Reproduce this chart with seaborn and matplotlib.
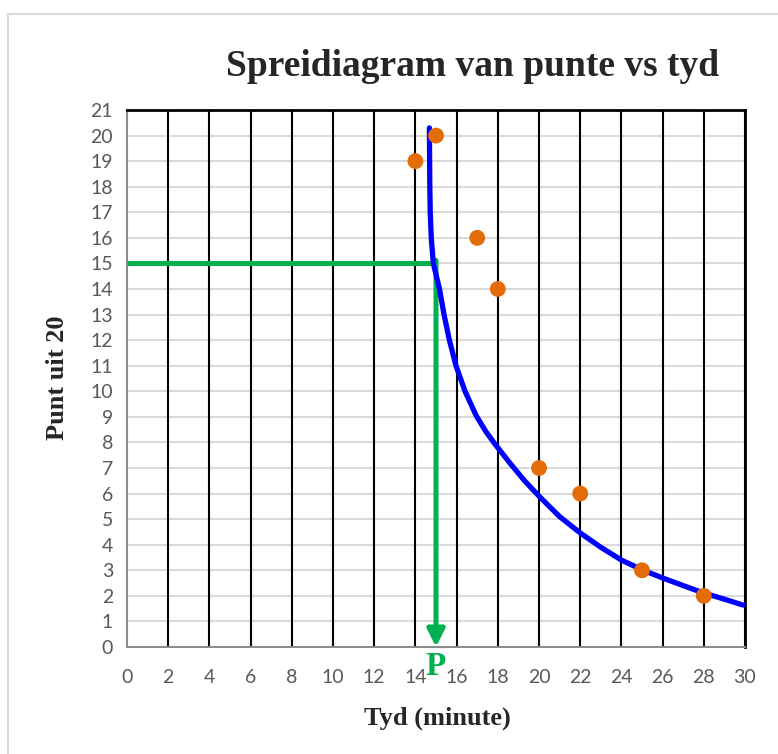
import numpy as np
import pandas as pd
import seaborn as sns
import matplotlib
matplotlib.use("Agg")
import matplotlib.pyplot as plt
from matplotlib.patches import Rectangle

# data
tyd = [14, 15, 17, 18, 20, 22, 25, 28]
punt = [19, 20, 16, 14, 7, 6, 3, 2]

# blue curve, points
curve_x = [14.68, 14.69, 14.70, 14.72, 14.77, 14.87, 15.17, 15.39, 15.65,
           15.97, 16.41, 16.95, 17.4, 17.85, 18.6, 19.3, 20.0, 21.0, 22.0, 23.0,
           24.0, 25.0, 26.0, 27.0, 28.0, 29.0, 29.9]
curve_y = [20.3, 19.0, 18.0, 17.0, 16.0, 15.0, 14.0, 13.0, 12.0,
           11.0, 10.0, 9.05, 8.45, 7.95, 7.18, 6.5, 5.9, 5.1, 4.46, 3.9,
           3.4, 3.02, 2.7, 2.4, 2.11, 1.87, 1.64]

# green read-off lines
p_x = 15
p_y = 15

x_ticks = list(range(0, 31, 2))
y_ticks = list(range(0, 22))

title = "Spreidiagram van punte vs tyd"
x_label = "Tyd (minute)"
y_label = "Punt uit 20"

sns.set_style("white")
plt.rcParams['font.family'] = ['Lato', 'DejaVu Sans']

df = pd.DataFrame({"tyd": tyd, "punt": punt})
curve = pd.DataFrame({"x": curve_x, "y": curve_y})

fig = plt.figure(figsize=(7.78, 7.54), dpi=100)
ax = fig.add_axes([127/778, 1-647/754, (745-127)/778, (647-110)/754])

# grid
for yt in y_ticks[1:]:
    ax.axhline(yt, color="#D9D9D9", lw=1.4, zorder=0)
for xt in x_ticks[1:]:
    ax.axvline(xt, color="black", lw=1.5, zorder=1)

sns.lineplot(data=curve, x="x", y="y", color="#0000FF", lw=3.8, sort=False,
             estimator=None, ax=ax, zorder=4)
sns.scatterplot(data=df, x="tyd", y="punt", color="#E36C09", s=130,
                edgecolor="none", ax=ax, zorder=5)

ax.plot([0, p_x + 0.05], [p_y, p_y], color="#00B050", lw=3.6, zorder=3,
        solid_capstyle="butt")
ax.annotate("", xy=(p_x, 0), xytext=(p_x, p_y + 0.12),
            arrowprops=dict(arrowstyle="-|>", color="#00B050", lw=3.6,
                            mutation_scale=26, shrinkA=0, shrinkB=0),
            zorder=3)
ax.text(p_x, -0.15, "P", color="#00B050", fontsize=24, fontweight="bold",
        family="Liberation Serif", ha="center", va="top")

ax.set_xlim(0, 30)
ax.set_ylim(0, 21)
ax.set_xticks(x_ticks)
ax.set_yticks(y_ticks)
ax.tick_params(axis="both", length=0, labelsize=14, labelcolor="#595959")
ax.tick_params(axis="x", pad=16)
ax.tick_params(axis="y", pad=10)
ax.set_xlabel("")
ax.set_ylabel("")

for s in ["left", "bottom"]:
    ax.spines[s].set_color("#8C8C8C")
    ax.spines[s].set_linewidth(1.5)
for s in ["top", "right"]:
    ax.spines[s].set_color("black")
    ax.spines[s].set_linewidth(2)

fig.text(473/778, 1-66/754, title, family="Liberation Serif",
         fontweight="bold", fontsize=27, ha="center", va="center")
fig.text(437/778, 1-718/754, x_label, family="Liberation Serif",
         fontweight="bold", fontsize=19, ha="center", va="center")
fig.text(57/778, 1-378/754, y_label, family="Liberation Serif",
         fontweight="bold", fontsize=19, ha="center", va="center",
         rotation=90)

fig.patches.append(Rectangle((8/778, -0.05), 1.1, 1-14/754+0.05,
                             transform=fig.transFigure, fill=False,
                             edgecolor="#D9D9D9", lw=1.5))

fig.savefig("out.png", dpi=100)
